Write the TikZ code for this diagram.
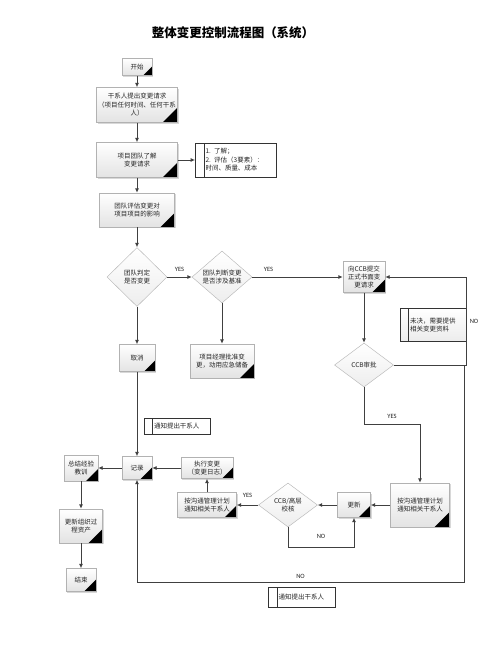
\documentclass[tikz,border=0pt]{standalone}
\usepackage{fontspec}
\setmainfont{Noto Sans CJK SC}
\newfontfamily\lat{Carlito}
\usepackage{tikz}
\usetikzlibrary{positioning,shapes.geometric,arrows.meta,shadows}

\begin{document}
\begin{tikzpicture}[x=1pt, y=1pt, node distance=50pt, >={Latex[length=4.5pt,width=4pt]},
  line/.style={draw=black!75, line width=0.9pt},
  corner/.style={path picture={\fill ([xshift=-#1]path picture bounding box.south east) -- (path picture bounding box.south east) -- ([yshift=#1]path picture bounding box.south east) -- cycle;}},
  main/.style={draw=gray!60, top color=white, bottom color=gray!22, align=center, inner sep=1pt, text=black!85, font=\fontsize{6.5}{8.5}\selectfont, drop shadow={shadow xshift=1pt, shadow yshift=-1pt, opacity=.3}, corner=14pt},
  dec/.style={diamond, draw=gray!60, top color=white, bottom color=gray!14, inner sep=0pt, minimum width=60pt, minimum height=58pt},
  txt/.style={align=center, text=black!85, font=\fontsize{6.5}{8.5}\selectfont},
  memo/.style={draw=black!80, line width=0.8pt, fill=white, align=left, inner xsep=1pt, inner ysep=1pt, text=black!85, font=\fontsize{6.5}{8.5}\selectfont, execute at begin node={\leftskip=9pt}, path picture={\draw[black!80, line width=0.8pt] ([xshift=8.5pt]path picture bounding box.north west) -- ([xshift=8.5pt]path picture bounding box.south west);}},
  yn/.style={text=black!85, font=\lat\fontsize{6.5}{8}\selectfont}]
\path[use as bounding box, fill=white] (0,0) rectangle (502,-649);

\node[font=\bfseries\fontsize{12.5}{14}\selectfont] (title) at (233,-33) {整体变更控制流程图（系统）};

\node[main, minimum width=30pt, minimum height=17pt, corner=9pt] (start) at (137,-67) {开始};
\node[main, minimum width=81pt, minimum height=35pt, corner=15pt] (req) [node distance=38pt, below of=start] {干系人提出变更请求\\（项目任何时间、任何干系\\人）};
\node[main, minimum width=81pt, minimum height=35pt, corner=15pt] (learn) [node distance=55pt, below of=req] {项目团队了解\\变更请求};
\node[memo, text width=79pt, minimum height=34pt] (note1) [node distance=99pt, right of=learn] {1. 了解；\\2. 评估（3要素）：\\时间、质量、成本};
\node[main, minimum width=75pt, minimum height=34pt] (assess) [below of=learn] {团队评估变更对\\项目项目的影响};
\node[dec, minimum height=59pt, label={[txt]center:团队判定\\是否变更}] (dec1) [node distance=67pt, below of=assess] {};
\node[dec, minimum height=52pt, label={[txt]center:团队判断变更\\是否涉及基准}] (dec2) [node distance=85pt, right of=dec1] {};
\node[main, minimum width=42pt, minimum height=31pt, corner=13pt] (ccb) [node distance=142pt, right of=dec2] {向CCB提交\\正式书面变\\更请求};
\node[dec, minimum width=59pt, minimum height=44pt, label={[txt]center:CCB审批}] (ccbdec) [node distance=88pt, below of=ccb] {};
\node[memo, text width=64pt, minimum height=33pt, top color=white, bottom color=gray!15] (pend) at (433,-325) {未决，需要提供\\相关变更资料};
\node[main, minimum width=36pt, minimum height=27pt, corner=11pt] (cancel) [node distance=81pt, below of=dec1] {取消};
\node[main, minimum width=64pt, minimum height=34pt] (pmapp) [node distance=84pt, below of=dec2] {项目经理批准变\\更，动用应急储备};
\node[memo, text width=64pt, minimum height=16pt] (notify1) at (177,-426) {通知提出干系人};
\node[main, minimum width=30pt, minimum height=23pt, corner=12pt] (record) [node distance=110pt, below of=cancel] {记录};
\node[main, minimum width=52pt, minimum height=21pt, corner=11pt] (exec) [node distance=70pt, right of=record] {执行变更\\（变更日志）};
\node[main, minimum width=34pt, minimum height=26pt, corner=12pt] (lessons) [node distance=56pt, left of=record] {总结经验\\教训};
\node[main, minimum width=59pt, minimum height=25pt, corner=12pt] (commL) [node distance=37pt, below of=exec] {按沟通管理计划\\通知相关干系人};
\node[dec, minimum width=59pt, minimum height=44pt, label={[txt]center:CCB/高层\\校核}] (ccbchk) [node distance=81pt, right of=commL] {};
\node[main, minimum width=33pt, minimum height=25pt, corner=12pt] (upd) [node distance=66pt, right of=ccbchk] {更新};
\node[main, minimum width=59pt, minimum height=44pt, corner=15pt] (commR) [node distance=66pt, right of=upd] {按沟通管理计划\\通知相关干系人};
\node[main, minimum width=43pt, minimum height=34pt] (org) [node distance=58pt, below of=lessons] {更新组织过\\程资产};
\node[main, minimum width=30pt, minimum height=23pt, corner=12pt] (end) [node distance=54pt, below of=org] {结束};
\node[memo, text width=65pt, minimum height=20pt] (notify2) at (302,-597) {通知提出干系人};

\coordinate (nr) at (466,-365);
\coordinate (nd1) at (464,-365);
\coordinate (nd2) at (464,-582);
\coordinate (nd3) at (137,-582);
\coordinate (ya) at (364,-424);
\coordinate (nb) at (288,-547);

\draw[line,->] (start) -- (req);
\draw[line,->] (req) -- (learn);
\draw[line,->] (learn) -- (note1);
\draw[line,->] (learn) -- (assess);
\draw[line,->] (assess) -- (dec1);
\draw[line,->] (dec1) -- node[yn, above=2pt] {YES} (dec2);
\draw[line,->] (dec2) -- node[yn, above=2pt, pos=.18] {YES} (ccb);
\draw[line,->] (ccb) -- (ccbdec);
\draw[line,->] (dec1) -- (cancel);
\draw[line,->] (dec2) -- (pmapp);
\draw[line,->] (cancel) -- (record);
\draw[line,->] (ccbdec.east) -- (nr) -- node[yn, right] {NO} (nr |- ccb.east) -- (ccb.east);
\draw[line,->] (nd1) -- (nd2) -- node[yn, above] {NO} (nd3) -- (record);
\draw[line,->] (ccbdec) -- (ya) -| node[yn, above=2pt, pos=.25] {YES} (commR);
\draw[line,->] (commR) -- (upd);
\draw[line,->] (upd) -- (ccbchk);
\draw[line,->] (ccbchk) -- node[yn, above=4pt] {YES} (commL);
\draw[line,->] (ccbchk) -- (nb) -| node[yn, above=5pt, pos=.25] {NO} (upd);
\draw[line,->] (commL) -- (exec);
\draw[line,->] (exec) -- (record);
\draw[line,->] (record) -- (lessons);
\draw[line,->] (lessons) -- (org);
\draw[line,->] (org) -- (end);
\end{tikzpicture}
\end{document}
